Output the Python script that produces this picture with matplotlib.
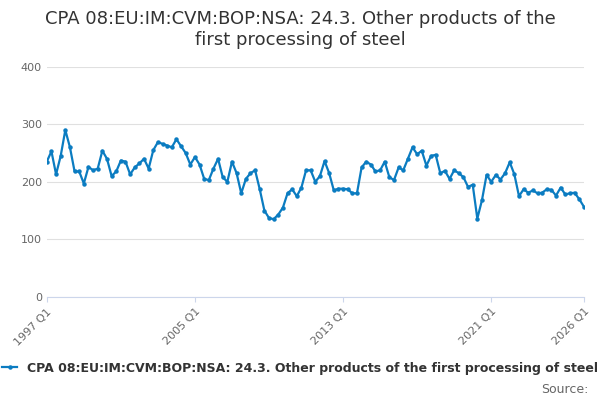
import matplotlib.pyplot as plt

values = [235, 253, 213, 245, 290, 260, 218, 218,
          197, 226, 220, 223, 254, 240, 210, 218,
          237, 235, 213, 225, 232, 240, 223, 255,
          269, 266, 263, 260, 274, 262, 250, 230,
          243, 230, 205, 203, 223, 240, 208, 200,
          235, 215, 180, 205, 215, 220, 187, 150,
          137, 135, 143, 155, 180, 187, 175, 190,
          220, 220, 200, 210, 236, 215, 185, 188,
          188, 187, 180, 180, 225, 235, 230, 218,
          220, 235, 208, 203, 225, 220, 240, 260,
          248, 254, 228, 245, 247, 215, 219, 205,
          220, 215, 208, 191, 195, 136, 168, 212,
          200, 212, 204, 215, 234, 213, 175, 187,
          181, 185, 180, 181, 187, 186, 176, 190,
          178, 180, 181, 170, 157]
tick_pos = [0, 32, 64, 96, 116]
tick_labels = ["1997 Q1", "2005 Q1", "2013 Q1", "2021 Q1", "2026 Q1"]
yticks = [0, 100, 200, 300, 400]
label = "CPA 08:EU:IM:CVM:BOP:NSA: 24.3. Other products of the first processing of steel"

color = "#0b7cc1"
fig = plt.figure(figsize=(6, 4), dpi=100)
ax = fig.add_axes([0.078, 0.258, 0.895, 0.575])
ax.plot(range(len(values)), values, color=color, lw=1.6, marker="o", ms=2.2, label=label)
ax.set_xlim(0, 116)
ax.set_ylim(0, 400)
ax.set_yticks(yticks)
ax.set_xticks(tick_pos)
ax.set_xticklabels(tick_labels, rotation=45, ha="right", rotation_mode="anchor")
ax.grid(axis="y", color="#e0e0e0", lw=0.8)
for s in ["top", "right", "left"]:
    ax.spines[s].set_visible(False)
ax.spines["bottom"].set_color("#ccd6eb")
ax.tick_params(axis="y", length=0, colors="#666666", labelsize=8)
ax.tick_params(axis="x", colors="#666666", labelsize=8, color="#ccd6eb")
fig.suptitle("CPA 08:EU:IM:CVM:BOP:NSA: 24.3. Other products of the\nfirst processing of steel",
             y=0.975, fontsize=13, color="#333333")
fig.legend(loc="lower center", bbox_to_anchor=(0.5, 0.035), frameon=False,
           prop={"size": 9, "weight": "bold"}, handlelength=1.2, labelcolor="#333333")
fig.text(0.98, 0.01, "Source:", ha="right", va="bottom", fontsize=9, color="#666666")
fig.savefig("out.png")
